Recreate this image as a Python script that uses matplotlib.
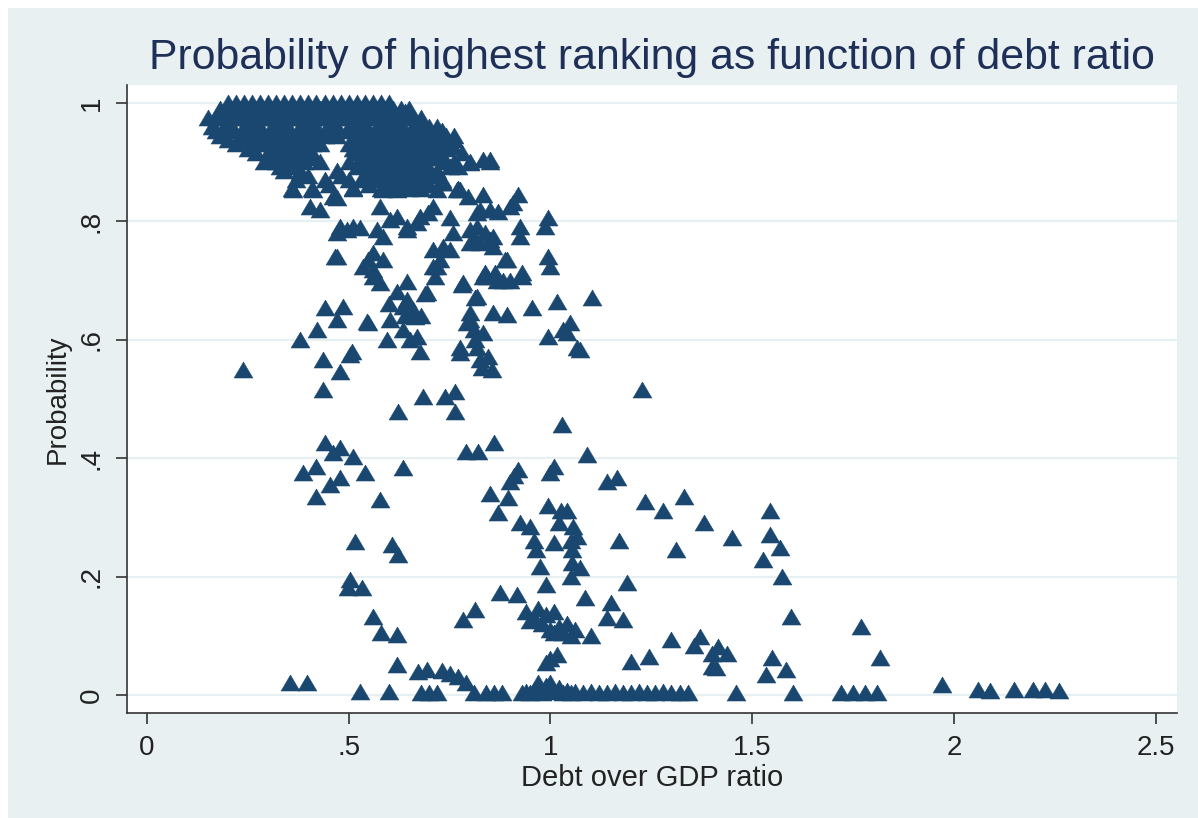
import matplotlib
matplotlib.use("Agg")
import matplotlib.pyplot as plt
from matplotlib.patches import Rectangle

# ---- data: (debt over GDP ratio, probability of highest ranking) ----
# dense block of near-certain top ratings, listed row by row
top_rows = {
    1.000: [.20, .22, .24, .26, .28, .30, .32, .34, .36, .38, .40, .42, .44, .46, .48, .50, .52, .54, .56, .58, .60],
    0.990: [.18, .21, .23, .25, .27, .29, .31, .33, .35, .37, .39, .41, .43, .45, .47, .49, .51, .53, .55, .57, .59, .61, .63, .65],
    0.985: [.19, .24, .28, .32, .36, .40, .44, .48, .52, .56, .60, .64],
    0.975: [.15, .17, .20, .22, .24, .27, .29, .31, .34, .36, .38, .41, .43, .45, .48, .50, .52, .55, .57, .59, .62, .64, .66, .68],
    0.960: [.16, .19, .21, .24, .26, .28, .31, .33, .35, .38, .40, .42, .45, .47, .50, .52, .54, .57, .59, .61, .63, .66, .68, .70, .72],
    0.952: [.17, .20, .27, .34, .39, .44, .50, .55, .61, .64, .70, .73],
    0.945: [.18, .23, .25, .28, .30, .32, .35, .37, .40, .42, .44, .47, .52, .54, .56, .58, .60, .62, .65, .67, .69, .71, .74, .76],
    0.937: [.20, .24, .28, .33, .38, .42, .53, .58, .63, .67, .70, .72, .76],
    0.930: [.22, .26, .29, .31, .34, .36, .39, .41, .43, .50, .53, .55, .57, .60, .62, .64, .66, .68, .71, .73, .75],
    0.922: [.25, .32, .35, .40, .51, .54, .57, .62, .66, .69, .74],
    0.915: [.27, .30, .33, .36, .38, .41, .52, .55, .58, .60, .63, .65, .67, .70, .72, .78],
    0.907: [.31, .34, .37, .41, .53, .56, .61, .65, .68, .71, .73],
    0.900: [.29, .32, .35, .39, .43, .50, .54, .57, .59, .62, .64, .67, .69, .74, .76, .80, .85],
    0.892: [.33, .36, .52, .56, .60, .63, .68, .75],
    0.885: [.34, .38, .47, .55, .58, .61, .64, .66, .70, .72],
    0.877: [.40, .48, .54, .58, .62, .65, .69, .71],
    0.870: [.37, .44, .50, .53, .56, .60, .63, .67, .73],
    0.862: [.45, .55, .60, .64, .70],
    0.855: [.36, .41, .51, .58, .62, .65, .68, .77],
}

upper_points = [
    (.47, .84), (.51, .856), (.585, .853), (.578, .824), (.62, .853), (.652, .865), (.734, .865),
    (.768, .853), (.80, .899), (.833, .904), (.85, .904), (.77, .892), (.758, .926), (.731, .865),
    (.719, .853), (.776, .853), (.795, .841), (.833, .845), (.92, .845), (.908, .831), (.90, .824),
    (.87, .816), (.85, .819), (.818, .814), (.751, .806), (.697, .814), (.994, .806), (.987, .79),
    (.925, .79), (.925, .774), (.858, .774), (.858, .757), (.759, .78), (.818, .79), (.838, .78),
    (.67, .797), (.709, .752), (.751, .752), (.80, .764), (.826, .764), (.85, .769), (.887, .735),
    (.994, .74), (1.0, .723), (.93, .713), (.838, .713), (.863, .713), (.843, .706), (.883, .70),
    (.93, .706), (.496, .785), (.528, .789), (.47, .78), (.57, .785), (.602, .802), (.644, .79),
    (.677, .807), (.709, .824), (.80, .785), (.826, .819), (.81, .768), (.466, .74), (.535, .723),
    (.56, .706), (.585, .735), (.578, .696), (.644, .698), (.644, .667), (.66, .65), (.694, .679),
    (.719, .723), (.734, .757), (.783, .696), (.833, .706), (.818, .672), (.548, .735), (.56, .747),
    (.585, .774), (.62, .807), (.645, .785), (.71, .723), (.714, .706), (.726, .735), (.78, .693),
    (.813, .671), (.867, .70), (.90, .70), (.893, .735), (.362, .853), (.404, .824), (.429, .819),
    (.412, .853), (.38, .882), (.461, .841), (.511, .79), (.478, .79), (.471, .74), (.56, .718),
    (.62, .68), (.64, .64), (.68, .64), (.60, .66),
]

middle_points = [
    (.486, .655), (.47, .633), (.545, .63), (.602, .633), (.635, .617), (.669, .605), (.595, .60),
    (.508, .58), (.677, .58), (.776, .586), (.793, .628), (.80, .645), (.833, .611), (.441, .654),
    (.421, .617), (.38, .60), (.548, .628), (.635, .655), (.652, .65), (.664, .638), (.69, .678),
    (.652, .60), (.436, .566), (.503, .574), (.478, .546), (.436, .515), (.858, .645), (.892, .642),
    (.954, .654), (1.016, .664), (1.103, .671), (.80, .633), (.81, .617), (.813, .60), (.818, .586),
    (.776, .578), (.825, .566), (.845, .571), (.83, .552), (.855, .549), (.995, .605), (1.03, .617),
    (1.048, .628), (1.04, .611), (1.073, .583), (1.066, .586), (1.227, .515), (.684, .503),
    (.739, .503), (.763, .512), (.763, .478), (.622, .478), (.238, .549),
    (.44, .425), (.478, .417), (.46, .408), (.51, .402), (.42, .385), (.387, .375), (.54, .375),
    (.635, .383), (.478, .367), (.453, .355), (.42, .335), (.578, .33), (.79, .41), (.82, .41),
    (.86, .425), (1.028, .456), (1.09, .405), (.92, .38), (.91, .37), (.90, .36), (1.01, .385),
    (1.0, .375), (1.14, .36), (1.165, .367), (.85, .34), (.895, .333), (.87, .307), (1.235, .326),
    (1.33, .335), (1.28, .31), (1.38, .29), (1.31, .245), (1.17, .26), (.925, .29), (.95, .284),
    (.96, .26), (.965, .245), (.975, .216), (.99, .186), (.995, .32), (1.025, .31), (1.04, .31),
    (1.02, .29), (1.055, .284), (1.065, .267), (1.01, .257), (1.05, .26), (1.053, .245),
    (1.053, .223), (1.073, .215), (1.05, .20), (1.19, .19), (1.45, .265), (1.545, .31),
    (1.545, .27), (1.57, .248), (1.527, .228), (1.575, .20),
]

lower_points = [
    (.516, .258), (.607, .253), (.623, .237), (.503, .194), (.498, .18), (.533, .18), (.56, .132),
    (.58, .105), (.62, .102), (.875, .172), (.917, .169), (1.085, .164), (1.15, .155), (1.14, .13),
    (1.18, .127), (.813, .144), (.783, .127), (.94, .14), (.95, .125), (.96, .13), (.97, .145),
    (.98, .12), (.99, .135), (1.0, .11), (1.01, .14), (1.02, .115), (1.03, .105), (1.04, .12),
    (1.05, .10), (1.06, .11), (1.01, .105), (1.10, .10), (1.30, .093), (1.37, .098), (1.355, .082),
    (1.40, .07), (1.40, .047), (1.245, .064), (1.20, .056), (1.0, .06), (1.015, .068), (.99, .054),
    (1.595, .132), (1.77, .115), (1.817, .062), (1.415, .081), (1.437, .07), (1.41, .045),
    (1.55, .062), (1.535, .034), (1.585, .042), (.62, .05), (.672, .039), (.694, .042), (.73, .04),
    (.75, .035), (.77, .03), (.79, .02), (.355, .02), (.397, .02),
]

zero_points = [
    (.528, .005), (.60, .005), (.68, .004), (.70, .004), (.72, .004), (.81, .004), (.84, .004),
    (.86, .004), (.88, .004), (.93, .004), (.94, .005), (.95, .004), (.96, .006), (.97, .02),
    (.98, .004), (.99, .015), (1.00, .02), (1.01, .005), (1.02, .012), (1.03, .004), (1.04, .006),
    (1.05, .004), (1.06, .005), (1.08, .004), (1.10, .005), (1.12, .004), (1.14, .004),
    (1.16, .005), (1.18, .004), (1.20, .004), (1.22, .005), (1.24, .004), (1.26, .004),
    (1.28, .005), (1.30, .004), (1.32, .004), (1.34, .004), (1.46, .003), (1.60, .003),
    (1.72, .003), (1.75, .003), (1.78, .003), (1.81, .003), (1.97, .017), (2.06, .008),
    (2.09, .006), (2.15, .008), (2.195, .008), (2.225, .008), (2.26, .006),
]

x_ticks = [0, 0.5, 1, 1.5, 2, 2.5]
x_tick_labels = ["0", ".5", "1", "1.5", "2", "2.5"]
y_ticks = [0, 0.2, 0.4, 0.6, 0.8, 1.0]
y_tick_labels = ["0", ".2", ".4", ".6", ".8", "1"]

# ---- assemble ----
debt, prob = [], []
for yv, xs in top_rows.items():
    for xv in xs:
        debt.append(xv)
        prob.append(yv)
for group in (upper_points, middle_points, lower_points, zero_points):
    for xv, yv in group:
        debt.append(xv)
        prob.append(yv)

# ---- figure ----
W, H = 1198, 818
fig = plt.figure(figsize=(W / 100, H / 100), dpi=100, facecolor="white")
# light graph region, leaving a thin white margin on the top and left
fig.add_artist(Rectangle((8 / W, 0), 1 - 8 / W, 1 - 8 / H, transform=fig.transFigure,
                         facecolor="#E9F0F2", edgecolor="none", zorder=-10))

ax = fig.add_axes([127 / W, 1 - 713 / H, (1177 - 127) / W, (713 - 85) / H])
ax.set_zorder(1)
ax.set_facecolor("white")

tri = [(0, 0.9), (-1, -0.8), (1, -0.8), (0, 0.9)]
ax.plot(debt, prob, linestyle="none", marker=tri, markersize=13.5,
        markerfacecolor="#1A476F", markeredgecolor="#1A476F", markeredgewidth=0.4, zorder=3)

ax.set_xlim(-0.0496, 2.553)
ax.set_ylim(-0.0304, 1.0304)

ax.set_yticks(y_ticks)
ax.set_yticklabels(y_tick_labels, rotation=90, va="center")
ax.set_xticks(x_ticks)
ax.set_xticklabels(x_tick_labels)

ax.grid(axis="y", color="#E6EFF1", linewidth=1.6, zorder=0)
ax.grid(axis="x", visible=False)
ax.set_axisbelow(True)

for side in ("top", "right"):
    ax.spines[side].set_visible(False)
for side in ("left", "bottom"):
    ax.spines[side].set_color("#333333")
    ax.spines[side].set_linewidth(1.2)

font = "Liberation Sans"
ax.tick_params(axis="both", direction="out", length=8, width=1.2, color="#333333",
               labelsize=20, labelcolor="#222222", pad=8)
for lab in ax.get_xticklabels() + ax.get_yticklabels():
    lab.set_fontfamily(font)

ax.set_xlabel("Debt over GDP ratio", fontsize=21, family=font, color="#222222", labelpad=2)
ax.set_ylabel("Probability", fontsize=20, family=font, color="#222222", labelpad=6)
fig.text(652 / W, 1 - 58 / H, "Probability of highest ranking as function of debt ratio",
         ha="center", va="center", fontsize=30.8, family=font, color="#1E2F58")

fig.savefig("out.png", dpi=100, facecolor=fig.get_facecolor())
